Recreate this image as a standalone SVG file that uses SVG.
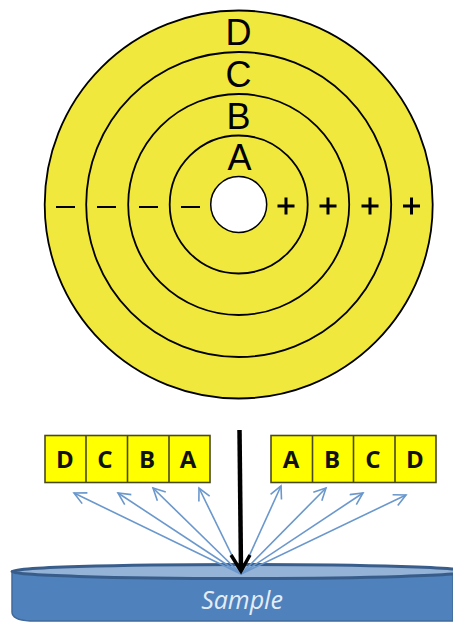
<svg xmlns="http://www.w3.org/2000/svg" width="453" height="622" viewBox="0 0 453 622">
<style>
.ring{fill:#f0e83c;stroke:#000;stroke-width:1.800}
.big{font:36px "Liberation Sans",Arial,sans-serif;fill:#000;text-anchor:middle}
.minus{stroke:#000;stroke-width:2;fill:none}
.plus{stroke:#000;stroke-width:3;fill:none}
.box{fill:#ffff00;stroke:#4a4a20;stroke-width:1.600}
.bl{font:bold 24px "Open Sans","Liberation Sans",sans-serif;fill:#111;text-anchor:middle}
.ray{stroke:#6a97cc;stroke-width:1.600;fill:none;marker-end:url(#open)}
</style>
<defs>
<marker id="open" markerUnits="userSpaceOnUse" markerWidth="16" markerHeight="16" refX="13" refY="7" orient="auto"><path d="M1 1L13 7L1 13" fill="none" stroke="#6a97cc" stroke-width="1.600"/></marker>
</defs>
<g id="disc">
<circle class="ring" cx="238.700" cy="204.500" r="194"/>
<circle class="ring" cx="238.700" cy="204.500" r="152.500"/>
<circle class="ring" cx="238.700" cy="204.500" r="110.500"/>
<circle class="ring" cx="238.700" cy="204.500" r="69"/>
<circle cx="238.700" cy="204.500" r="28" fill="#fff" stroke="#000" stroke-width="1.500"/>
</g>
<g id="disc-labels">
<text class="big" x="238.500" y="45">D</text>
<text class="big" x="238.500" y="87">C</text>
<text class="big" x="238.500" y="129">B</text>
<text class="big" x="239.500" y="170">A</text>
<path class="minus" d="M56 207h19M97 207h19M139 207h19M181 207h19"/>
<path class="plus" d="M277.500 206h17M286 197.500v17M319.500 206h17M328 197.500v17M361.500 206h17M370 197.500v17M403 206h17M411.500 197.500v17"/>
</g>
<g id="left-bins">
<rect class="box" x="45" y="435.500" width="165" height="47"/>
<path class="box" d="M86 435.500v47M127.500 435.500v47M169 435.500v47"/>
<text class="bl" x="65" y="468">D</text>
<text class="bl" x="105" y="468">C</text>
<text class="bl" x="147" y="468">B</text>
<text class="bl" x="188" y="468">A</text>
</g>
<g id="right-bins">
<rect class="box" x="271" y="435.500" width="165" height="47"/>
<path class="box" d="M312.500 435.500v47M353.500 435.500v47M395 435.500v47"/>
<text class="bl" x="291" y="468">A</text>
<text class="bl" x="332" y="468">B</text>
<text class="bl" x="373" y="468">C</text>
<text class="bl" x="415" y="468">D</text>
</g>
<g id="sample">
<path d="M12 571V612Q12 620 30 621H453V571Z" fill="#4f81bd" stroke="#41699a" stroke-width="1.500"/>
<ellipse cx="240" cy="571.500" rx="228" ry="7" fill="#95b3d7" stroke="#385d8a" stroke-width="3"/>
<text x="242" y="609" font-family="'Open Sans','Liberation Sans',sans-serif" font-size="25" font-style="italic" fill="#e4edf7" text-anchor="middle">Sample</text>
</g>
<g id="connectors">
<path class="ray" d="M241 574L74 493"/>
<path class="ray" d="M241 574L118 493"/>
<path class="ray" d="M241 574L153 488"/>
<path class="ray" d="M241 574L199 488"/>
<path class="ray" d="M241 574L281 486"/>
<path class="ray" d="M241 574L326 488"/>
<path class="ray" d="M241 574L363 493"/>
<path class="ray" d="M241 574L406 495"/>
<path d="M239.500 430L241 570" stroke="#000" stroke-width="4.500" fill="none"/>
<path d="M231 555L241 571L250 555" stroke="#000" stroke-width="3.500" fill="none"/>
</g>
</svg>
